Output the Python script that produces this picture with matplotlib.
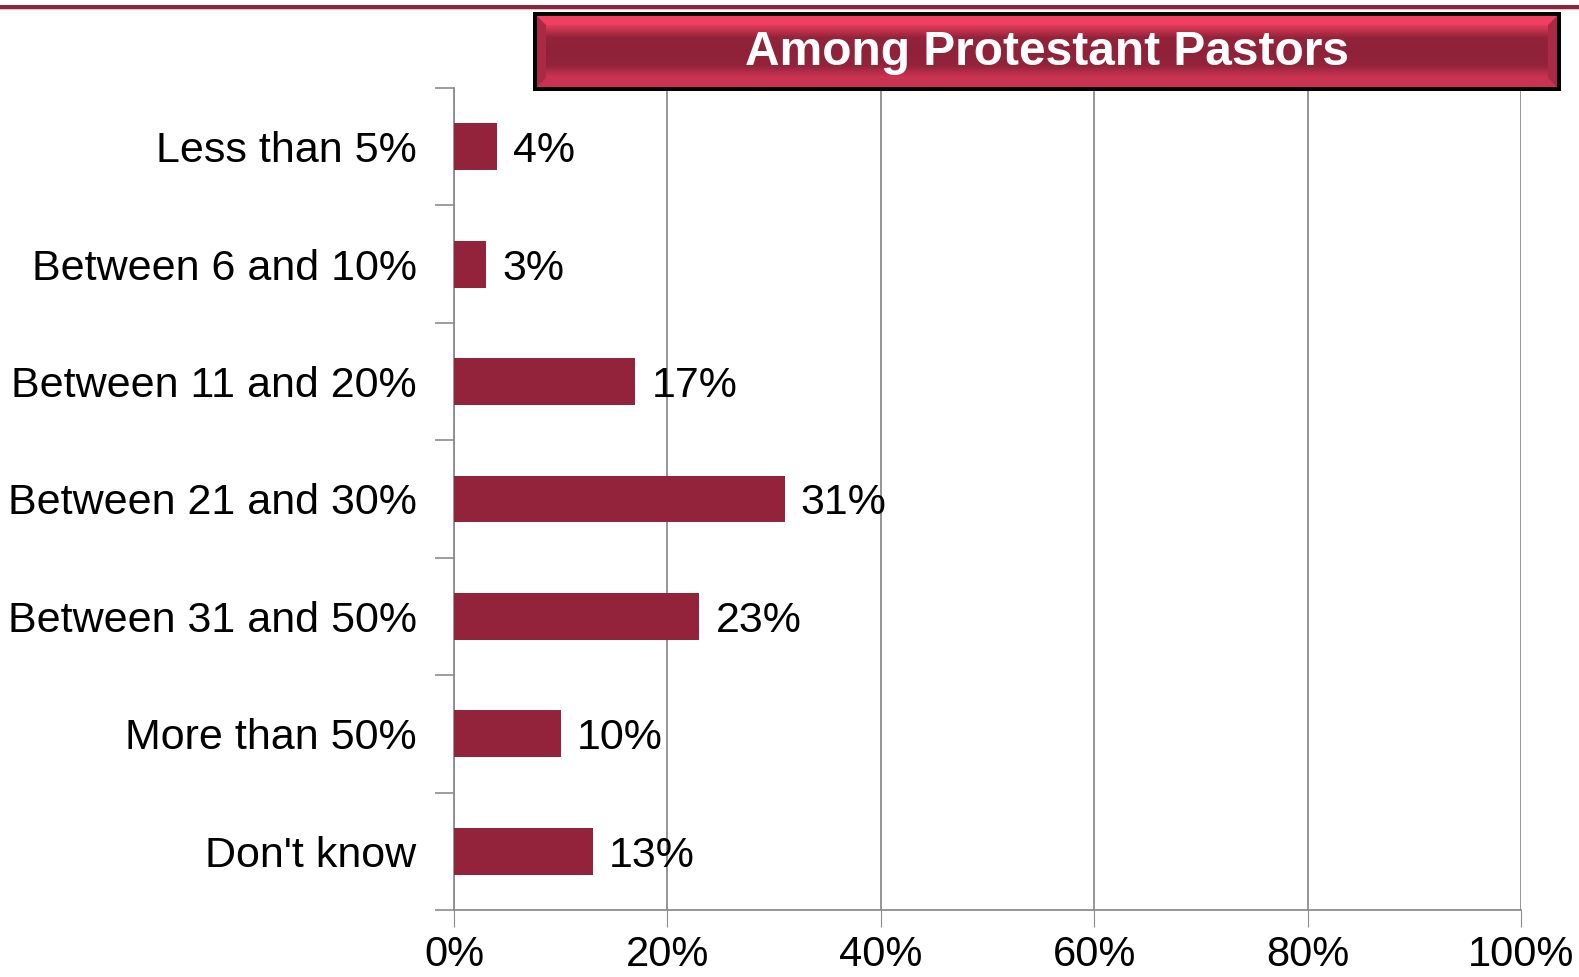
import numpy as np
import matplotlib.pyplot as plt
from matplotlib.patches import Rectangle, Polygon

# chart data
categories = ['Less than 5%', 'Between 6 and 10%', 'Between 11 and 20%',
              'Between 21 and 30%', 'Between 31 and 50%', 'More than 50%', "Don't know"]
values = [4, 3, 17, 31, 23, 10, 13]
xticks = [0, 20, 40, 60, 80, 100]
title = 'Among Protestant Pastors'

bar_color = '#93233b'
grid_color = '#8c8c8c'

plt.rcParams['font.family'] = ['Liberation Sans', 'DejaVu Sans']

fig = plt.figure(figsize=(15.79, 9.77), dpi=100)
W, H = 1579, 977

def fx(px):
	return px / W

def fy(py):
	return 1 - py / H

# main axes
ax = fig.add_axes([fx(454), fy(910), fx(1521) - fx(454), fy(88) - fy(910)])
n = len(categories)
ypos = np.arange(n)
ax.barh(ypos, values, height=0.4, color=bar_color, zorder=3)
ax.set_ylim(n - 0.5, -0.5)
ax.set_xlim(0, 100)

for y, v in zip(ypos, values):
	ax.text(v + 1.5, y, '%d%%' % v, va='center_baseline', ha='left', fontsize=31, color='black', zorder=4)

ax.set_xticks(xticks)
ax.set_xticklabels(['%d%%' % t for t in xticks], fontsize=30)
ax.set_yticks(ypos)
ax.set_yticklabels(categories, fontsize=31, va='center_baseline')
ax.tick_params(axis='y', length=0, pad=27)
ax.tick_params(axis='x', length=12, color=grid_color, pad=6)

# category boundary ticks on the left
ax.set_yticks(np.arange(-0.5, n, 1), minor=True)
ax.tick_params(axis='y', which='minor', length=14, color=grid_color, width=1.2)

ax.grid(axis='x', color=grid_color, linewidth=1.3, zorder=0)
for s in ['top', 'right']:
	ax.spines[s].set_visible(False)
ax.spines['left'].set_color(grid_color)
ax.spines['bottom'].set_color(grid_color)
ax.spines['left'].set_linewidth(1.3)
ax.spines['bottom'].set_linewidth(1.3)

# top rule
fig.add_artist(Rectangle((0, fy(9)), 1, fy(5) - fy(9), transform=fig.transFigure,
	facecolor='#8a2540', edgecolor='none'))
fig.add_artist(Rectangle((0, fy(10)), 1, fy(9) - fy(10), transform=fig.transFigure,
	facecolor='#f2b6c4', edgecolor='none'))

# title banner
bx0, bx1, by0, by1 = 533, 1561, 12, 91
bw, bh = bx1 - bx0, by1 - by0
bax = fig.add_axes([fx(bx0), fy(by1), fx(bx1) - fx(bx0), fy(by0) - fy(by1)])
bax.add_patch(Rectangle((0, 0), bw, bh, facecolor='black', edgecolor='none', zorder=1))
# inner gradient
grad = np.array([[0.95, 0.25, 0.38], [0.58, 0.14, 0.23], [0.56, 0.13, 0.22],
	[0.58, 0.14, 0.23], [0.85, 0.22, 0.35]])
bax.imshow(grad[:, None, :], extent=[4, bw - 4, bh - 4, 4], aspect='auto',
	interpolation='bilinear', zorder=2)
# bevel edges
b = 9
bax.add_patch(Polygon([[4, 4], [bw - 4, 4], [bw - 4 - b, 4 + b], [4 + b, 4 + b]],
	facecolor='#f0405f', edgecolor='none', alpha=0.9, zorder=3))
bax.add_patch(Polygon([[4, bh - 4], [bw - 4, bh - 4], [bw - 4 - b, bh - 4 - b], [4 + b, bh - 4 - b]],
	facecolor='#c83350', edgecolor='none', alpha=0.9, zorder=3))
bax.add_patch(Polygon([[4, 4], [4 + b, 4 + b], [4 + b, bh - 4 - b], [4, bh - 4]],
	facecolor='#a82a44', edgecolor='none', zorder=3))
bax.add_patch(Polygon([[bw - 4, 4], [bw - 4 - b, 4 + b], [bw - 4 - b, bh - 4 - b], [bw - 4, bh - 4]],
	facecolor='#a82a44', edgecolor='none', zorder=3))
bax.text(bw * 0.5, bh / 2 + 1, title, color='white', fontsize=34.5, fontweight='bold',
	ha='center', va='center', zorder=4)
bax.set_xlim(0, bw)
bax.set_ylim(bh, 0)
bax.axis('off')

fig.savefig('out.png', dpi=100)
